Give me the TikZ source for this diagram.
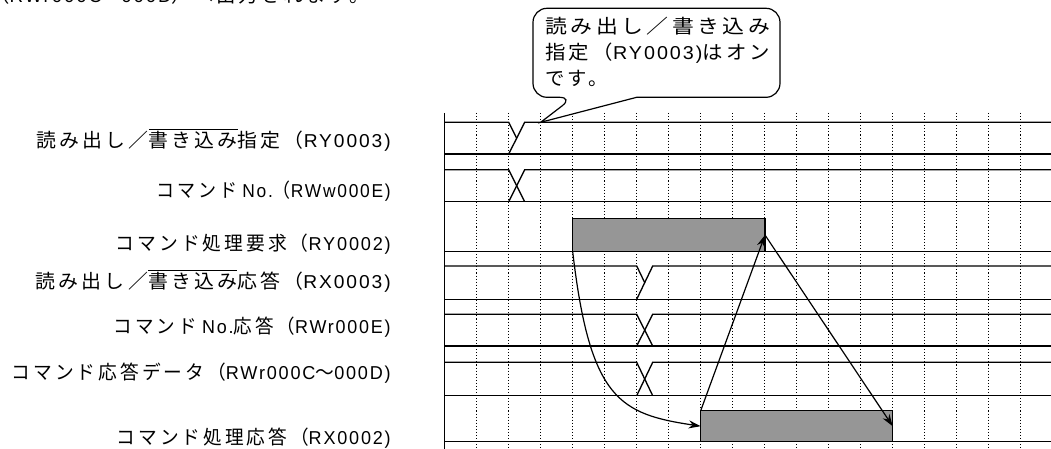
\documentclass[tikz,border=0pt]{standalone}
\usepackage{fontspec}
\usepackage{graphicx}
\usetikzlibrary{arrows.meta}
\newfontfamily\jp[LetterSpace=16]{Noto Sans CJK JP}
\newfontfamily\latf[LetterSpace=10]{Liberation Sans}
\newcommand\la[1]{{\latf\fontsize{14pt}{16pt}\selectfont #1}}
\newcommand\ovl[1]{$\overline{\hbox{#1}}$}
\newlength\lblw
\newcommand\fitto[2]{\settowidth\lblw{#2}\scalebox{\fpeval{(#1)/\lblw}}[1]{#2}}
\definecolor{boxgray}{RGB}{150,150,150}
\begin{document}
\begin{tikzpicture}[x=0.75pt,y=-0.75pt,
  font=\jp\fontsize{14.5pt}{17pt}\selectfont,
  sig/.style={line width=1pt},
  gridline/.style={line width=0.9pt, dash pattern=on 0.8pt off 1.5pt},
  lbl/.style={anchor=base east, inner sep=0pt},
  txt/.style={anchor=base west, inner sep=0pt},
  sbox/.style={draw, line width=0.9pt, fill=boxgray, inner sep=0pt, outer sep=0pt, anchor=south west},
  arr/.style={line width=0.9pt, -{Stealth[length=9pt,width=6pt]}}]
\useasboundingbox (0,0) rectangle (1051,449);
% cut text at top
\node[txt] (top) at (-10,3) {（\la{RWr000C}～\la{000D}）へ出力されます。};
% grid
\foreach \k in {1,...,18}{
  \draw[gridline] ({444.7+32*\k},113) -- ({444.7+32*\k},449);
}
\draw[sig] (444.7,113) -- (444.7,449);
% labels
\node[lbl] (l1) at (391,147.5) {\fitto{354*0.75pt}{読み出し／\ovl{書き込み}指定（\la{RY0003)}}};
\node[lbl] (l2) at (391,197.5) {\fitto{234*0.75pt}{コマンド\hspace{4pt}\la{No.}（\la{RWw000E)}}};
\node[lbl] (l3) at (391,250.5) {\fitto{275*0.75pt}{コマンド処理要求（\la{RY0002)}}};
\node[lbl] (l4) at (391,288.5) {\fitto{355*0.75pt}{読み出し／\ovl{書き込み}応答（\la{RX0003)}}};
\node[lbl] (l5) at (391,333.5) {\fitto{277*0.75pt}{コマンド\hspace{4pt}\la{No.}応答（\la{RWr000E)}}};
\node[lbl] (l6) at (391,379.5) {\fitto{379*0.75pt}{コマンド応答データ（\la{RWr000C}～\la{000D)}}};
\node[lbl] (l7) at (391,444.5) {\fitto{274*0.75pt}{コマンド処理応答（\la{RX0002)}}};
% row 1
\draw[sig] (444.7,122.3) -- (508.7,122.3) -- (516.7,138.2);
\draw[sig] (444.7,154) -- (1052,154);
\draw[sig] (508.7,154) -- (524.7,122.3) -- (1052,122.3);
% row 2
\draw[sig] (444.7,169.7) -- (508.7,169.7) -- (524.7,201.7);
\draw[sig] (444.7,201.7) -- (1052,201.7);
\draw[sig] (508.7,201.7) -- (524.7,169.7) -- (1052,169.7);
% row 3
\draw[sig] (444.7,251.7) -- (1052,251.7);
\node[sbox, minimum width=192.3*0.75pt, minimum height=33.4*0.75pt] (req) at (572.7,251.7) {};
% row 4
\draw[sig] (444.7,266) -- (636.7,266) -- (644.7,282.6);
\draw[sig] (444.7,299.3) -- (1052,299.3);
\draw[sig] (636.7,299.3) -- (652.7,266) -- (1052,266);
% row 5
\draw[sig] (444.7,314.3) -- (636.7,314.3) -- (652.7,346);
\draw[sig] (444.7,346) -- (1052,346);
\draw[sig] (636.7,346) -- (652.7,314.3) -- (1052,314.3);
% row 6
\draw[sig] (444.7,362.3) -- (636.7,362.3) -- (652.7,395.7);
\draw[sig] (444.7,395.7) -- (1052,395.7);
\draw[sig] (636.7,395.7) -- (652.7,362.3) -- (1052,362.3);
% row 7
\draw[sig] (444.7,441.7) -- (1052,441.7);
\node[sbox, minimum width=192*0.75pt, minimum height=31*0.75pt] (resp) at (700.7,441.7) {};
% arrows
\draw[arr] (req.south west) .. controls (590,400) and (620,414) .. (resp.west);
\draw[arr] (resp.north west) -- (req.east);
\draw[arr] (req.east) -- (resp.east);
% callout
\coordinate (tip) at (540.7,122.3);
\draw[line width=0.9pt, fill=white] (636.7,97.3) [rounded corners=10.5pt] -- (780,97.3) -- (780,8.3) -- (533,8.3) -- (533,97.3) -- (573.3,97.3) [sharp corners] -- (tip) -- (636.7,97.3);
\node[txt] (b1) at (545,34) {\fitto{225*0.75pt}{読み出し／書き込み}};
\node[txt] (b2) at (545,59.5) {\fitto{225*0.75pt}{指定（\la{RY0003)}はオン}};
\node[txt] (b3) at (545,86) {です。};
\end{tikzpicture}
\end{document}
